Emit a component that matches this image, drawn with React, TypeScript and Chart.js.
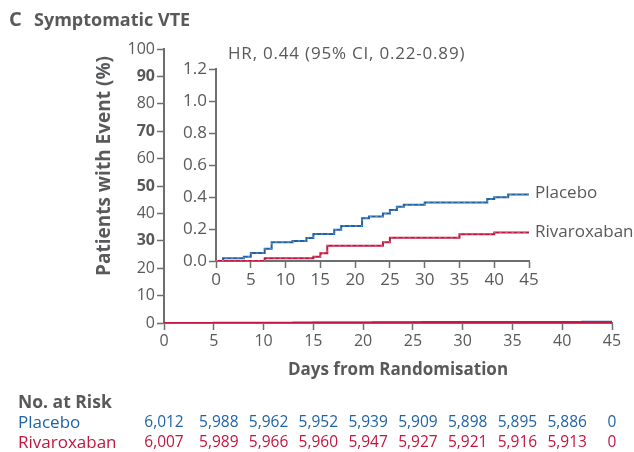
import { useEffect, useRef } from 'react';
import { Chart, registerables } from 'chart.js';

Chart.register(...registerables);

const GREY = '#58595b';
const AXIS = '#6d6e70';
const BLUE = '#1f63a6';
const RED = '#c1163f';
const FONT = '"Open Sans", "Noto Sans", sans-serif';

// Kaplan-Meier steps (day the step starts, cumulative %)
const placeboDays = [0, 1, 4, 5, 7, 8, 11, 13, 14, 17, 18, 21, 22, 24, 25, 26, 27, 30, 39, 40, 42, 45];
const placeboPct = [0, 0.017, 0.027, 0.05, 0.077, 0.117, 0.125, 0.144, 0.169, 0.196, 0.219, 0.267, 0.278, 0.297, 0.318, 0.339, 0.351, 0.366, 0.387, 0.399, 0.416, 0.416];
const rivaroxabanDays = [0, 7, 14, 15, 16, 24, 25, 35, 40, 45];
const rivaroxabanPct = [0, 0.017, 0.027, 0.048, 0.096, 0.117, 0.146, 0.167, 0.178, 0.178];

// number at risk table
const riskDays = [0, 5, 10, 15, 20, 25, 30, 35, 40, 45];
const placeboAtRisk = [6012, 5988, 5962, 5952, 5939, 5909, 5898, 5895, 5886, 0];
const rivaroxabanAtRisk = [6007, 5989, 5966, 5960, 5947, 5927, 5921, 5916, 5913, 0];

const toPoints = (days: number[], vals: number[]) => days.map((d, i) => ({ x: d, y: vals[i] }));

function axisStyle(size: number) {
  return {
    ticks: { color: GREY, font: { family: FONT, size }, padding: 2 },
    grid: { drawOnChartArea: false, tickLength: 7, tickColor: AXIS, tickWidth: 1.5 },
    border: { color: AXIS, width: 2 },
  };
}

function curveDatasets(censor: boolean) {
  const sets: any[] = [
    {
      label: 'Rivaroxaban',
      data: toPoints(rivaroxabanDays, rivaroxabanPct),
      borderColor: RED,
      borderWidth: 2,
      stepped: 'before',
      pointRadius: 0,
    },
    {
      label: 'Placebo',
      data: toPoints(placeboDays, placeboPct),
      borderColor: BLUE,
      borderWidth: 2,
      stepped: 'before',
      pointRadius: 0,
    },
  ];
  if (censor) {
    // light dashes over the lines, like the censor ticks in the figure
    sets.unshift(
      ...sets.map((s) => ({
        ...s,
        label: s.label + ' censored',
        borderColor: 'rgba(255,255,255,0.45)',
        borderWidth: 0.8,
        borderDash: [2, 4],
      }))
    );
  }
  return sets;
}

const mainText = {
  id: 'mainText',
  afterDraw(chart: any) {
    const { ctx } = chart;
    const x = chart.scales.x;
    ctx.save();
    ctx.fillStyle = GREY;
    ctx.textBaseline = 'middle';
    ctx.textAlign = 'left';
    ctx.font = `bold 20px ${FONT}`;
    ctx.fillText('C', 9, 20);
    ctx.font = `bold 18px ${FONT}`;
    ctx.fillText('Symptomatic VTE', 34, 21);

    ctx.save();
    ctx.translate(105, 166);
    ctx.rotate(-Math.PI / 2);
    ctx.textAlign = 'center';
    ctx.font = `bold 19px ${FONT}`;
    ctx.fillText('Patients with Event (%)', 0, 0);
    ctx.restore();

    ctx.textAlign = 'center';
    ctx.font = `bold 17px ${FONT}`;
    ctx.fillText('Days from Randomisation', 398, 370);

    ctx.textAlign = 'left';
    ctx.font = `bold 17.5px ${FONT}`;
    ctx.fillText('No. at Risk', 18, 403);
    ctx.font = `17px ${FONT}`;
    ctx.fillStyle = BLUE;
    ctx.fillText('Placebo', 18, 423);
    ctx.fillStyle = RED;
    ctx.fillText('Rivaroxaban', 18, 443);

    ctx.textAlign = 'center';
    ctx.font = `15.5px ${FONT}`;
    riskDays.forEach((d, i) => {
      const px = x.getPixelForValue(d) + (i === 0 || i === riskDays.length - 1 ? 0 : 5);
      ctx.fillStyle = BLUE;
      ctx.fillText(placeboAtRisk[i].toLocaleString('en-US'), px, 423);
      ctx.fillStyle = RED;
      ctx.fillText(rivaroxabanAtRisk[i].toLocaleString('en-US'), px, 443);
    });
    ctx.restore();
  },
};

const insetText = {
  id: 'insetText',
  afterDraw(chart: any) {
    const { ctx, chartArea } = chart;
    const { x, y } = chart.scales;
    ctx.save();
    ctx.font = `17px ${FONT}`;
    ctx.fillStyle = GREY;
    ctx.textBaseline = 'middle';
    ctx.textAlign = 'left';
    const endX = x.getPixelForValue(45) + 6;
    ctx.fillText('Placebo', endX, y.getPixelForValue(placeboPct[placeboPct.length - 1]) - 1);
    ctx.fillText('Rivaroxaban', endX, y.getPixelForValue(rivaroxabanPct[rivaroxabanPct.length - 1]));
    ctx.letterSpacing = '0.8px';
    ctx.fillText('HR, 0.44 (95% CI, 0.22-0.89)', chartArea.left + 12, chartArea.top - 15);
    ctx.restore();
  },
};

function MainChart() {
  const ref = useRef<HTMLCanvasElement>(null);
  useEffect(() => {
    if (!ref.current) return;
    const base = axisStyle(16);
    const chart = new Chart(ref.current, {
      type: 'line',
      data: { datasets: curveDatasets(false) },
      options: {
        animation: false,
        responsive: true,
        maintainAspectRatio: false,
        layout: { padding: { top: 49, right: 22, left: 0, bottom: 0 } },
        plugins: { legend: { display: false }, tooltip: { enabled: false } },
        scales: {
          x: {
            type: 'linear',
            min: 0,
            max: 45,
            ...base,
            ticks: { ...base.ticks, stepSize: 5 },
            afterFit: (s: any) => {
              s.height = 129;
            },
          },
          y: {
            min: 0,
            max: 100,
            ...base,
            ticks: {
              ...base.ticks,
              stepSize: 10,
              font: (c: any) => ({
                family: FONT,
                size: 16,
                weight: [30, 50, 70, 90].includes(c.tick?.value) ? 'bold' : 'normal',
              }),
            },
            afterFit: (s: any) => {
              s.width = 164;
            },
          },
        },
      } as any,
      plugins: [mainText],
    });
    return () => chart.destroy();
  }, []);
  return <canvas ref={ref} />;
}

function InsetChart() {
  const ref = useRef<HTMLCanvasElement>(null);
  useEffect(() => {
    if (!ref.current) return;
    const base = axisStyle(17);
    const chart = new Chart(ref.current, {
      type: 'line',
      data: { datasets: curveDatasets(true) },
      options: {
        animation: false,
        responsive: true,
        maintainAspectRatio: false,
        layout: { padding: { top: 31, right: 105, left: 0, bottom: 0 } },
        plugins: { legend: { display: false }, tooltip: { enabled: false } },
        scales: {
          x: {
            type: 'linear',
            min: 0,
            max: 45,
            ...base,
            ticks: { ...base.ticks, stepSize: 5 },
            afterFit: (s: any) => {
              s.height = 37;
            },
          },
          y: {
            min: 0,
            max: 1.2,
            ...base,
            ticks: { ...base.ticks, stepSize: 0.2, callback: (v: any) => Number(v).toFixed(1) },
            afterFit: (s: any) => {
              s.width = 46;
            },
          },
        },
      } as any,
      plugins: [insetText],
    });
    return () => chart.destroy();
  }, []);
  return <canvas ref={ref} />;
}

export default function App() {
  return (
    <div style={{ position: 'absolute', left: 0, top: 0, width: 634, height: 452, background: '#fff' }}>
      <div style={{ position: 'absolute', left: 0, top: 0, width: 634, height: 452 }}>
        <MainChart />
      </div>
      <div style={{ position: 'absolute', left: 170, top: 38, width: 464, height: 260 }}>
        <InsetChart />
      </div>
    </div>
  );
}
